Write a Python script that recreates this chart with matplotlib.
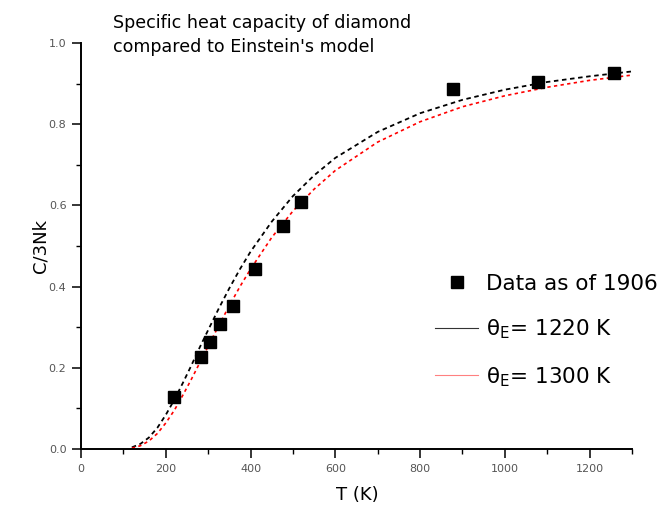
import numpy as np
import matplotlib
matplotlib.use("Agg")
import matplotlib.pyplot as plt
from matplotlib.lines import Line2D
from matplotlib.ticker import MultipleLocator

plt.rcParams['font.family'] = ['DejaVu Sans']

# measured points (as of 1906)
T_data = [220, 282, 304, 328, 358, 410, 477, 518, 877, 1079, 1258]
C_data = [0.127, 0.227, 0.263, 0.308, 0.353, 0.443, 0.549, 0.608, 0.886, 0.905, 0.927]

# model curves
T_model = [120, 140, 160, 180, 200, 220, 240, 260, 280, 300, 325, 350, 375, 400,
           450, 500, 550, 600, 700, 800, 900, 1000, 1100, 1200, 1300]
C_1220 = [0.004, 0.0125, 0.028, 0.052, 0.084, 0.121, 0.162, 0.205, 0.250, 0.293,
          0.346, 0.396, 0.443, 0.486, 0.560, 0.623, 0.674, 0.717, 0.781, 0.827,
          0.860, 0.885, 0.904, 0.918, 0.930]
C_1300 = [0.002, 0.008, 0.0195, 0.038, 0.064, 0.095, 0.132, 0.171, 0.212, 0.253,
          0.304, 0.353, 0.400, 0.443, 0.521, 0.586, 0.640, 0.686, 0.756, 0.806,
          0.843, 0.870, 0.891, 0.908, 0.921]

W, H = 670, 525
fig = plt.figure(figsize=(W / 100, H / 100), dpi=100)
ax = fig.add_axes([81 / W, 1 - 449 / H, (632 - 81) / W, (449 - 43) / H])

ax.plot(T_model, C_1220, color='black', lw=1.3, dashes=(2.5, 2))
ax.plot(T_model, C_1300, color='red', lw=1.2, dashes=(2, 2))
ax.plot(T_data, C_data, 's', color='black', ms=8.5, ls='none')

ax.set_xlim(0, 1300)
ax.set_ylim(0, 1.0)
ax.xaxis.set_major_locator(MultipleLocator(200))
ax.xaxis.set_minor_locator(MultipleLocator(100))
ax.yaxis.set_major_locator(MultipleLocator(0.2))
ax.yaxis.set_minor_locator(MultipleLocator(0.1))
ax.xaxis.set_major_formatter(lambda v, p: f"{v:.0f}")
ax.yaxis.set_major_formatter(lambda v, p: f"{v:.1f}")

for side in ['top', 'right']:
    ax.spines[side].set_visible(False)
for side in ['left', 'bottom']:
    ax.spines[side].set_linewidth(1.4)
ax.tick_params(which='major', direction='out', length=6.5, width=1.1,
               labelsize=8, labelcolor='#555555', pad=4)
ax.tick_params(which='minor', direction='out', length=3.6, width=1.0)

fig.text(113 / W, 1 - 35 / H, "Specific heat capacity of diamond\ncompared to Einstein's model",
         fontsize=12.6, ha='left', va='center', linespacing=1.5)
fig.text(40 / W, 1 - 246 / H, "C/3Nk", rotation=90, fontsize=13, ha='center', va='center')
fig.text(357 / W, 1 - 495 / H, "T (K)", fontsize=13, ha='center', va='center')

handles = [
    Line2D([], [], marker='s', color='black', ls='none', ms=8),
    Line2D([], [], color='#333333', lw=0.8),
    Line2D([], [], color='#ff8080', lw=0.8),
]
labels = ["Data as of 1906", "θ$_\\mathregular{E}$= 1220 K", "θ$_\\mathregular{E}$= 1300 K"]
fig.legend(handles, labels, loc='upper left', bbox_to_anchor=(435 / W, 1 - 274 / H),
           frameon=False, fontsize=15.5, handlelength=2.0, handletextpad=0.35,
           labelspacing=1.1, borderpad=0, borderaxespad=0)

fig.savefig("out.png", dpi=100)
